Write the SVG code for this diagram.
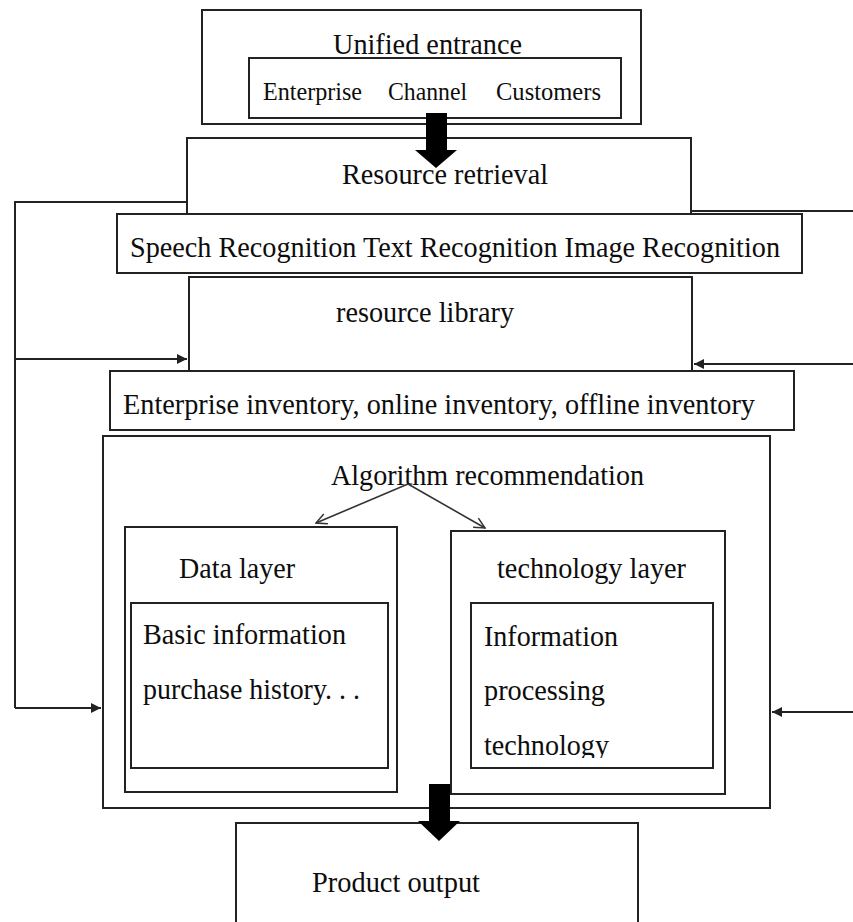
<svg xmlns="http://www.w3.org/2000/svg" width="853" height="922" viewBox="0 0 853 922">
  <style>
    .box { fill: #ffffff; stroke: #222222; stroke-width: 2; }
    .lbl { font-family: "Liberation Serif", "Times New Roman", serif; font-size: 29px; fill: #0d0d0d; }
    .sm { font-size: 25px; }
    .wire { fill: none; stroke: #222222; stroke-width: 2; }
    .thin { fill: none; stroke: #333333; stroke-width: 1.6; }
    .block { fill: #000000; }
  </style>
  <defs>
    <marker id="tri" viewBox="0 0 10 10" refX="10" refY="5" markerWidth="5.5" markerHeight="5" orient="auto" markerUnits="strokeWidth">
      <path d="M0,0 L10,5 L0,10 Z" fill="#222222"/>
    </marker>
    <marker id="vee" viewBox="0 0 12 12" refX="11" refY="6" markerWidth="8" markerHeight="8" orient="auto" markerUnits="strokeWidth">
      <path d="M1,1 L11,6 L1,11" fill="none" stroke="#333333" stroke-width="1.4"/>
    </marker>
    <clipPath id="techClip">
      <rect x="472" y="604" width="240" height="154"/>
    </clipPath>
  </defs>

  <!-- entrance -->
  <g id="unified-entrance">
    <rect class="box" x="202" y="10" width="439" height="114"/>
    <text class="lbl" x="333" y="54" textLength="189" lengthAdjust="spacingAndGlyphs">Unified entrance</text>
    <rect class="box" x="249" y="58" width="372" height="60"/>
    <text class="lbl sm" x="263" y="100" textLength="99" lengthAdjust="spacingAndGlyphs">Enterprise</text>
    <text class="lbl sm" x="388" y="100" textLength="79" lengthAdjust="spacingAndGlyphs">Channel</text>
    <text class="lbl sm" x="496" y="100" textLength="105" lengthAdjust="spacingAndGlyphs">Customers</text>
  </g>

  <g id="resource-retrieval">
    <rect class="box" x="187" y="138" width="504" height="76"/>
    <text class="lbl" x="342" y="184" textLength="206" lengthAdjust="spacingAndGlyphs">Resource retrieval</text>
  </g>

  <g id="recognition">
    <rect class="box" x="117" y="214" width="685" height="59"/>
    <text class="lbl" x="130" y="257" textLength="650" lengthAdjust="spacingAndGlyphs">Speech Recognition Text Recognition Image Recognition</text>
  </g>

  <g id="resource-library">
    <rect class="box" x="189" y="277" width="503" height="95"/>
    <text class="lbl" x="336" y="322" textLength="178" lengthAdjust="spacingAndGlyphs">resource library</text>
  </g>

  <g id="inventory">
    <rect class="box" x="110" y="371" width="684" height="59"/>
    <text class="lbl" x="123" y="414" textLength="632" lengthAdjust="spacingAndGlyphs">Enterprise inventory, online inventory, offline inventory</text>
  </g>

  <g id="algorithm-recommendation">
    <rect class="box" x="103" y="436" width="667" height="372"/>
    <text class="lbl" x="331" y="485" textLength="313" lengthAdjust="spacingAndGlyphs">Algorithm recommendation</text>
  </g>

  <g id="data-layer">
    <rect class="box" x="125" y="527" width="272" height="265"/>
    <text class="lbl" x="179" y="578" textLength="116" lengthAdjust="spacingAndGlyphs">Data layer</text>
    <rect class="box" x="131" y="603" width="257" height="165"/>
    <text class="lbl" x="143" y="644" textLength="203" lengthAdjust="spacingAndGlyphs">Basic information</text>
    <text class="lbl" x="143" y="699" textLength="217" lengthAdjust="spacingAndGlyphs">purchase history. . .</text>
  </g>

  <g id="technology-layer">
    <rect class="box" x="451" y="531" width="274" height="263"/>
    <text class="lbl" x="497" y="578" textLength="189" lengthAdjust="spacingAndGlyphs">technology layer</text>
    <rect class="box" x="471" y="603" width="242" height="165"/>
    <g clip-path="url(#techClip)">
      <text class="lbl" x="484" y="646" textLength="134" lengthAdjust="spacingAndGlyphs">Information</text>
      <text class="lbl" x="484" y="700" textLength="121" lengthAdjust="spacingAndGlyphs">processing</text>
      <text class="lbl" x="484" y="755" textLength="125" lengthAdjust="spacingAndGlyphs">technology</text>
    </g>
  </g>

  <g id="product-output">
    <rect class="box" x="236" y="823" width="402" height="110"/>
    <text class="lbl" x="312" y="892" textLength="168" lengthAdjust="spacingAndGlyphs">Product output</text>
  </g>

  <!-- connectors -->
  <g id="connectors">
    <!-- left feedback bus -->
    <path class="wire" d="M187,202 H15 V708"/>
    <path class="wire" d="M14,359 H187" marker-end="url(#tri)"/>
    <path class="wire" d="M15,708 H101" marker-end="url(#tri)"/>
    <!-- right feedback bus -->
    <path class="wire" d="M691,211 H853"/>
    <path class="wire" d="M853,364 H694" marker-end="url(#tri)"/>
    <path class="wire" d="M853,712 H772" marker-end="url(#tri)"/>
    <!-- algorithm split -->
    <path class="thin" d="M408,484 L316,523" marker-end="url(#vee)"/>
    <path class="thin" d="M408,484 L485,528" marker-end="url(#vee)"/>
    <!-- block arrows -->
    <path class="block" d="M426,113 H447 V150 H457 L436,168 L415,150 H426 Z"/>
    <path class="block" d="M429,784 H450 V821 H460 L439,841 L418,821 H429 Z"/>
  </g>
</svg>
